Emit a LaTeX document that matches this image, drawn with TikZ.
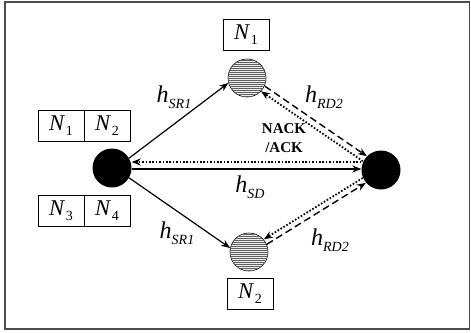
\documentclass[tikz,border=0pt]{standalone}
\usepackage{fontspec}
\setmainfont{Liberation Serif}
\usetikzlibrary{patterns,patterns.meta,arrows.meta,calc}
\tikzdeclarepattern{
  name=hfine,
  type=uncolored,
  bounding box={(0pt,-1pt) and (1pt,1pt)},
  tile size={(1pt,2pt)},
  code={\draw[line width=0.9pt] (0pt,0pt) -- (1pt,0pt);}
}
\newcommand\Nsub[1]{\textit{N}\kern0.5pt\raisebox{-5pt}{\fontsize{14}{14}\selectfont #1}}
\newcommand\Hsub[1]{\textit{h}\raisebox{-6pt}{\fontsize{14}{14}\selectfont\itshape #1}}
\begin{document}
\begin{tikzpicture}[x=1pt,y=-1pt,
  solidnode/.style={circle,fill=black,minimum size=39pt,inner sep=0pt},
  relay/.style={circle,draw=black,line width=0.6pt,minimum size=38pt,inner sep=0pt,
     fill=gray!15,postaction={pattern=hfine,pattern color=gray!75!black}},
  nbox/.style={draw=black,line width=0.6pt,minimum width=46pt,minimum height=31pt,inner sep=0pt,font=\fontsize{22.5}{22.5}\selectfont},
  lbl/.style={font=\fontsize{24}{24}\selectfont,inner sep=0pt},
  arr/.style={line width=1.2pt,-{Stealth[length=9pt,width=7pt]}},
  dotarr/.style={line width=1.8pt,dash pattern=on 1.6pt off 1.8pt,-{Stealth[length=9pt,width=7pt]}},
  dasharr/.style={line width=1.4pt,dash pattern=on 7pt off 4pt,-{Stealth[length=9pt,width=7pt]}},
  ]
\useasboundingbox (0,0) rectangle (471,332);
\node[draw=black!70,line width=1.2pt,minimum width=464.5pt,minimum height=327pt,inner sep=0pt] (frame) at (237.25,165.5) {};
\node[solidnode] (S) at (112,168) {};
\node[solidnode] (D) at (381,170) {};
\node[relay] (R1) at (247,78) {};
\node[relay] (R2) at (249,252) {};
\node[nbox] (b1) at (246,35) {\Nsub{1}};
\node[nbox] (b2) at (250,294) {\Nsub{2}};
\node[nbox] (l1) at (61,126) {\Nsub{1}};
\node[nbox] (l2) at (107,126) {\Nsub{2}};
\node[nbox] (l3) at (61,211) {\Nsub{3}};
\node[nbox] (l4) at (107,211) {\Nsub{4}};
% connectors
\draw[arr] (S.30) -- (R1.195);
\draw[arr] (S.-30) -- (R2.168);
\draw[arr] ($(S.east)+(0,1)$) -- ($(S.east -| D.west)+(0,1)$);
\draw[dotarr] ($(S.east -| D.west)+(0,-6)$) -- ($(S.east)+(0,-6)$);
\draw[dasharr] ($(R1.-34)+(2,-2.5)$) -- ($(D.145)+(2,-2.5)$);
\draw[dotarr] ($(D.145)+(-2,2.5)$) -- ($(R1.-34)+(-2,2.5)$);
\draw[dotarr] ($(D.-148)+(-1.5,-2.5)$) -- ($(R2.32)+(-1.5,-2.5)$);
\draw[dasharr] ($(R2.32)+(1.5,2.5)$) -- ($(D.-148)+(1.5,2.5)$);
% labels
\node[lbl] (h1) at (174,97) {\Hsub{SR1}};
\node[lbl] (h2) at (324,97) {\Hsub{RD2}};
\node[lbl] (h3) at (250,187) {\Hsub{SD}};
\node[lbl] (h4) at (177,233) {\Hsub{SR1}};
\node[lbl] (h5) at (330,240) {\Hsub{RD2}};
\node[font=\bfseries\fontsize{15}{19}\selectfont,align=center,inner sep=0pt] (ack) at (284,138) {NACK\\/ACK};
\end{tikzpicture}
\end{document}
